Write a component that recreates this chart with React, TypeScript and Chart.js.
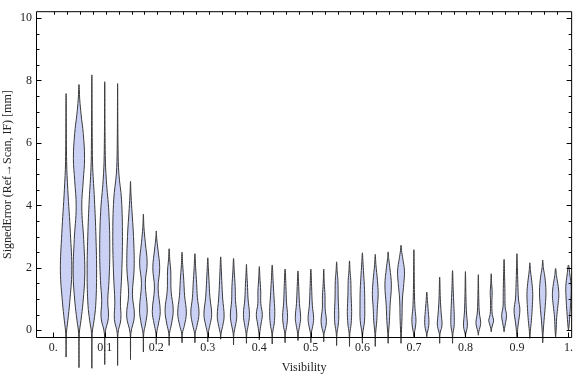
import React, { useEffect, useRef } from "react";
import { Chart, registerables } from "chart.js";

Chart.register(...registerables);

// Category positions (Visibility bins)
const VISIBILITY = [
  0.025, 0.05, 0.075, 0.1, 0.125, 0.15, 0.175, 0.2, 0.225, 0.25,
  0.275, 0.3, 0.325, 0.35, 0.375, 0.4, 0.425, 0.45, 0.475, 0.5,
  0.525, 0.55, 0.575, 0.6, 0.625, 0.65, 0.675, 0.7, 0.725, 0.75,
  0.775, 0.8, 0.825, 0.85, 0.875, 0.9, 0.925, 0.95, 0.975, 1.0,
];

// Lowest / highest signed error of each violin [mm]
const MIN_ERROR = [
  -0.86, -1.2, -1.22, -1.1, -1.13, -0.94, -0.7, -0.45, -0.49, -0.4,
  -0.4, -0.37, -0.29, -0.47, -0.42, -0.31, -0.44, -0.4, -0.33, -0.4,
  -0.37, -0.49, -0.52, -0.42, -0.52, -0.42, -0.42, -0.21, -0.21, -0.42,
  -0.42, -0.21, -0.16, -0.05, -0.05, -0.21, -0.26, -0.4, -0.21, 0.0,
];
const MAX_ERROR = [
  7.58, 7.87, 8.18, 7.96, 7.9, 4.77, 3.72, 3.18, 2.61, 2.5,
  2.45, 2.32, 2.35, 2.3, 2.11, 2.04, 2.09, 1.96, 1.9, 1.96,
  1.96, 2.19, 2.22, 2.48, 2.43, 2.51, 2.72, 2.58, 1.22, 1.7,
  1.91, 1.88, 1.78, 1.81, 2.27, 2.45, 2.16, 2.25, 1.98, 2.09,
];

// Density profile of each violin: [signed error, relative density]
const DENSITY_PROFILES: number[][][] = [
  [[-0.1, 0.35], [0.3, 1.6], [0.9, 3.4], [1.9, 5.3], [3.1, 4.0], [4.5, 1.6], [5.4, 0.5]],
  [[-0.1, 0.35], [0.3, 1.8], [0.9, 3.8], [1.8, 5.4], [2.9, 4.4], [3.95, 2.6], [4.8, 4.0], [5.5, 5.2], [6.3, 4.0], [6.9, 2.0], [7.4, 0.7]],
  [[-0.1, 0.35], [0.3, 2.0], [0.8, 3.6], [1.8, 4.4], [3.0, 3.8], [4.2, 2.4], [5.2, 0.8], [6.0, 0.4]],
  [[-0.1, 0.35], [0.4, 3.4], [0.95, 2.8], [1.6, 4.0], [2.6, 4.7], [3.8, 3.8], [4.8, 1.5], [5.6, 0.5]],
  [[-0.1, 0.35], [0.35, 3.0], [0.9, 2.6], [1.8, 3.8], [3.0, 4.5], [4.2, 3.6], [5.0, 1.2], [5.8, 0.4]],
  [[-0.1, 0.35], [0.45, 3.6], [1.15, 1.8], [2.0, 3.4], [3.0, 2.8], [3.9, 1.2], [4.4, 0.4]],
  [[-0.1, 0.35], [0.2, 2.0], [0.65, 3.6], [1.5, 1.8], [2.15, 3.5], [2.8, 1.8], [3.3, 0.5]],
  [[-0.1, 0.35], [0.2, 2.0], [0.6, 3.7], [1.35, 1.7], [2.0, 3.2], [2.6, 1.5], [2.95, 0.4]],
  [[-0.1, 0.35], [0.2, 2.2], [0.65, 3.8], [1.25, 1.8], [1.9, 1.5], [2.25, 0.6]],
  [[-0.1, 0.35], [0.15, 2.2], [0.55, 4.0], [1.1, 2.4], [1.6, 1.6], [2.1, 0.6]],
  [[-0.1, 0.35], [0.15, 2.0], [0.55, 3.8], [1.05, 2.3], [1.5, 1.6], [2.0, 0.7]],
  [[-0.1, 0.35], [0.15, 1.9], [0.5, 3.6], [1.05, 2.0], [1.6, 1.1], [2.0, 0.5]],
  [[-0.1, 0.35], [0.12, 1.8], [0.45, 3.2], [1.0, 1.9], [1.6, 1.0], [2.0, 0.5]],
  [[-0.1, 0.35], [0.12, 1.6], [0.45, 3.0], [0.95, 1.8], [1.4, 1.5], [1.9, 0.6]],
  [[-0.1, 0.35], [0.15, 1.6], [0.5, 2.8], [1.0, 1.5], [1.5, 0.9], [1.8, 0.4]],
  [[-0.1, 0.35], [0.2, 1.6], [0.5, 2.8], [0.85, 1.4], [1.25, 1.3], [1.7, 0.5]],
  [[-0.1, 0.35], [0.2, 1.8], [0.6, 2.4], [1.1, 1.6], [1.6, 0.8]],
  [[-0.1, 0.35], [0.15, 1.6], [0.45, 2.3], [0.9, 1.3], [1.4, 0.8]],
  [[-0.1, 0.35], [0.15, 1.6], [0.4, 2.5], [0.85, 1.4], [1.4, 0.7]],
  [[-0.1, 0.35], [0.12, 1.7], [0.38, 2.6], [0.8, 1.4], [1.4, 0.7]],
  [[-0.1, 0.35], [0.05, 1.5], [0.28, 2.5], [0.7, 1.3], [1.1, 1.2], [1.5, 0.5]],
  [[-0.1, 0.35], [0.2, 1.6], [0.5, 2.0], [1.0, 1.5], [1.6, 1.2], [1.9, 0.5]],
  [[-0.1, 0.35], [0.2, 1.5], [0.6, 2.0], [1.1, 1.5], [1.6, 1.2], [1.9, 0.5]],
  [[-0.1, 0.35], [0.3, 2.0], [0.8, 2.2], [1.3, 2.0], [1.8, 1.2], [2.2, 0.5]],
  [[-0.1, 0.35], [0.3, 1.4], [0.7, 1.9], [1.15, 2.7], [1.6, 2.0], [2.1, 0.6]],
  [[-0.1, 0.35], [0.3, 1.2], [0.8, 1.8], [1.45, 3.0], [2.0, 1.6], [2.3, 0.5]],
  [[-0.1, 0.35], [0.4, 0.9], [1.0, 1.3], [1.5, 2.6], [1.9, 3.2], [2.3, 1.6], [2.55, 0.5]],
  [[-0.1, 0.35], [0.1, 1.4], [0.35, 1.9], [0.7, 1.0], [1.2, 0.5]],
  [[-0.1, 0.35], [0.05, 1.4], [0.25, 2.0], [0.6, 1.4], [0.95, 0.6]],
  [[-0.1, 0.35], [0.05, 1.6], [0.2, 2.2], [0.55, 1.4], [1.0, 0.6]],
  [[-0.1, 0.35], [0.1, 1.4], [0.4, 1.6], [0.8, 1.2], [1.3, 0.6]],
  [[-0.1, 0.35], [0.05, 1.5], [0.2, 1.8], [0.55, 1.0], [1.0, 0.5]],
  [[-0.05, 0.4], [0.1, 1.6], [0.25, 2.2], [0.55, 1.0], [0.9, 0.5]],
  [[0.05, 0.4], [0.2, 1.5], [0.32, 2.3], [0.5, 1.0], [0.9, 0.6], [1.2, 0.9], [1.5, 0.4]],
  [[0.05, 0.4], [0.25, 1.4], [0.47, 2.3], [0.75, 1.0], [1.2, 0.8], [1.7, 0.5]],
  [[-0.05, 0.4], [0.2, 1.2], [0.65, 2.7], [1.0, 1.4], [1.5, 0.8], [2.0, 0.4]],
  [[-0.05, 0.4], [0.3, 1.4], [0.7, 2.2], [1.15, 2.7], [1.5, 2.0], [1.9, 0.6]],
  [[-0.1, 0.35], [0.3, 1.2], [0.8, 2.4], [1.25, 3.0], [1.7, 2.0], [2.0, 0.6]],
  [[-0.05, 0.4], [0.4, 1.0], [0.8, 2.2], [1.1, 3.0], [1.4, 2.4], [1.75, 0.8]],
  [[0.1, 0.4], [0.6, 1.5], [1.0, 2.2], [1.4, 2.5], [1.8, 1.2]],
];

// Axis ticks and labels
const X_TICKS = [0, 0.1, 0.2, 0.3, 0.4, 0.5, 0.6, 0.7, 0.8, 0.9, 1.0];
const X_TICK_LABELS = ["0.", "0.1", "0.2", "0.3", "0.4", "0.5", "0.6", "0.7", "0.8", "0.9", "1."];
const Y_TICKS = [0, 2, 4, 6, 8, 10];
const Y_TICK_LABELS = ["0", "2", "4", "6", "8", "10"];
const Y_MINOR_STEP = 0.5;
const TOP_TICK_STEP = 0.025;
const TOP_TICK_COUNT = 40;

// violin half-width: density unit -> visibility units
const DENSITY_TO_X = 1.08 / 518;

const FONT = "'Liberation Serif', 'Times New Roman', 'DejaVu Serif', serif";
const FILL = "rgb(202, 209, 245)";
const EDGE = "#3a3a3a";

const framePlugin = {
  id: "mmaFrame",
  afterDatasetsDraw(chart: any) {
    const { ctx, chartArea: a, scales } = chart;
    const xs = scales.x;
    const ys = scales.y;
    ctx.save();
    ctx.strokeStyle = "#000";
    ctx.lineWidth = 1;
    const L = a.left + 0.5;
    const R = a.right - 0.5;
    const T = a.top + 0.5;
    const B = a.bottom - 0.5;
    ctx.beginPath();
    ctx.rect(L, T, R - L, B - T);
    const yMin = Y_TICKS[0];
    const yMax = Y_TICKS[Y_TICKS.length - 1];
    const n = Math.round((yMax - yMin) / Y_MINOR_STEP);
    for (let k = 0; k <= n; k++) {
      const v = yMin + k * Y_MINOR_STEP;
      const major = Y_TICKS.some((t) => Math.abs(t - v) < 1e-9);
      const len = major ? 5 : 3;
      const py = Math.round(ys.getPixelForValue(v)) + 0.5;
      ctx.moveTo(L, py);
      ctx.lineTo(L + len, py);
      ctx.moveTo(R, py);
      ctx.lineTo(R - len, py);
    }
    for (const v of X_TICKS) {
      const px = Math.round(xs.getPixelForValue(v)) + 0.5;
      ctx.moveTo(px, B);
      ctx.lineTo(px, B - 5);
    }
    for (let k = 0; k < TOP_TICK_COUNT; k++) {
      const px = Math.round(xs.getPixelForValue(k * TOP_TICK_STEP)) + 1.5;
      ctx.moveTo(px, T);
      ctx.lineTo(px, T + 3);
    }
    ctx.stroke();
    ctx.restore();
  },
};

export default function App() {
  const ref = useRef<HTMLCanvasElement | null>(null);

  useEffect(() => {
    if (!ref.current) return;
    const datasets = VISIBILITY.map((c, i) => {
      const prof = DENSITY_PROFILES[i];
      const right = prof.map(([y, d]) => ({ x: c + d * DENSITY_TO_X, y }));
      const left = prof
        .slice()
        .reverse()
        .map(([y, d]) => ({ x: c - d * DENSITY_TO_X, y }));
      const data = [
        { x: c, y: MIN_ERROR[i] },
        ...right,
        { x: c, y: MAX_ERROR[i] },
        ...left,
        { x: c, y: MIN_ERROR[i] },
      ];
      return {
        data,
        showLine: true,
        fill: "shape",
        backgroundColor: FILL,
        borderColor: EDGE,
        borderWidth: 1,
        pointRadius: 0,
        pointHoverRadius: 0,
        tension: 0.4,
        clip: false,
      };
    });

    const chart = new Chart(ref.current, {
      type: "scatter",
      data: { datasets: datasets as any },
      options: {
        animation: false,
        responsive: false,
        events: [],
        layout: { padding: { top: 4, right: 1, left: 0, bottom: 0 } },
        plugins: {
          legend: { display: false },
          tooltip: { enabled: false },
        },
        scales: {
          x: {
            type: "linear",
            min: -0.0334,
            max: 1.0071,
            afterFit: (s: any) => {
              s.height = 39;
            },
            afterBuildTicks: (s: any) => {
              s.ticks = X_TICKS.map((v) => ({ value: v }));
            },
            grid: { display: false, drawTicks: false },
            border: { display: false },
            ticks: {
              autoSkip: false,
              maxRotation: 0,
              padding: 3,
              color: "#222",
              font: { family: FONT, size: 12 },
              callback: (v: any) => {
                const idx = X_TICKS.findIndex((t) => Math.abs(t - Number(v)) < 1e-9);
                return idx >= 0 ? X_TICK_LABELS[idx] : "";
              },
            },
            title: {
              display: true,
              text: "Visibility",
              color: "#222",
              font: { family: FONT, size: 12 },
              padding: { top: 0, bottom: 2 },
            },
          },
          y: {
            type: "linear",
            min: -0.25,
            max: 10.22,
            afterFit: (s: any) => {
              s.width = 36;
            },
            afterBuildTicks: (s: any) => {
              s.ticks = Y_TICKS.map((v) => ({ value: v }));
            },
            grid: { display: false, drawTicks: false },
            border: { display: false },
            ticks: {
              autoSkip: false,
              padding: 4,
              color: "#222",
              font: { family: FONT, size: 12 },
              callback: (v: any) => {
                const idx = Y_TICKS.findIndex((t) => Math.abs(t - Number(v)) < 1e-9);
                return idx >= 0 ? Y_TICK_LABELS[idx] : "";
              },
            },
            title: {
              display: true,
              text: "SignedError (Ref\u2192Scan, IF) [mm]",
              color: "#222",
              font: { family: FONT, size: 12 },
              padding: { top: 1, bottom: 0 },
            },
          },
        },
      },
      plugins: [framePlugin],
    });
    return () => chart.destroy();
  }, []);

  return (
    <div style={{ position: "absolute", left: 0, top: 0, width: 576, height: 377, background: "#fff" }}>
      <canvas ref={ref} width={576} height={377} style={{ display: "block" }} />
    </div>
  );
}
